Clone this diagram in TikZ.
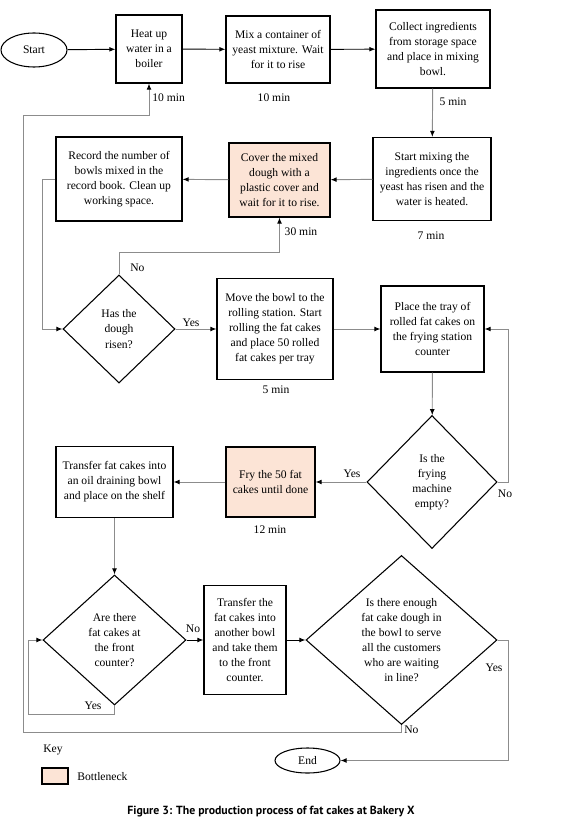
\documentclass[tikz,border=0pt]{standalone}
\usepackage{fontspec}
\setmainfont{Liberation Serif}
\newfontfamily\capfont{PT Sans}
\usetikzlibrary{shapes.geometric,arrows.meta,calc}
\definecolor{bottleneck}{HTML}{FCE4D6}
\definecolor{linegray}{HTML}{8C8C8C}
\begin{document}
\begin{tikzpicture}[x=0.75pt,y=-0.75pt,
        font=\rmfamily\fontsize{8.7}{11.3}\selectfont,
        procbox/.style={draw,line width=0.9pt,align=center,inner sep=1pt},
        decision/.style={draw,diamond,aspect=1,line width=0.8pt,align=center,inner sep=1pt},
        terminal/.style={draw,ellipse,line width=0.8pt,inner sep=0pt},
        flow/.style={draw=linegray,line width=0.7pt,-{Latex[length=4.5pt,width=3.6pt,color=black]}},
        mainflow/.style={flow,draw=black},
        note/.style={inner sep=0pt}]
        \useasboundingbox (0,0) rectangle (580,823);
        % top row
        \node[terminal,minimum width=49.5pt,minimum height=25.5pt] (start) at (34,50) {Start};
        \node[procbox,minimum width=49.5pt,minimum height=51pt] (heat) at (149,49) {Heat up\\water in a\\boiler};
        \node[procbox,minimum width=78pt,minimum height=50.25pt] (mix) at (278,49.5) {Mix a container of\\yeast mixture. Wait\\for it to rise};
        \node[procbox,minimum width=85.5pt,minimum height=58.5pt] (collect) at (433,49) {Collect ingredients\\from storage space\\and place in mixing\\bowl.};
        % second row
        \node[procbox,minimum width=88.5pt,minimum height=62.25pt] (startmix) at (432,179) {Start mixing the\\ingredients once the\\yeast has risen and the\\water is heated.};
        \node[procbox,fill=bottleneck,minimum width=75.75pt,minimum height=55.5pt] (cover) at (279.5,180) {Cover the mixed\\dough with a\\plastic cover and\\wait for it to rise.};
        \node[procbox,minimum width=94.5pt,minimum height=63pt] (record) at (119,179) {Record the number of\\bowls mixed in the\\record book. Clean up\\working space.};
        % third row
        \node[decision,minimum width=84pt,minimum height=81pt] (risen) at (119,329) {Has the\\dough\\risen?};
        \node[procbox,minimum width=87pt,minimum height=75.75pt] (move) at (275,329) {Move the bowl to the\\rolling station. Start\\rolling the fat cakes\\and place 50 rolled\\fat cakes per tray};
        \node[procbox,minimum width=77.25pt,minimum height=64.5pt] (tray) at (432.5,329) {Place the tray of\\rolled fat cakes on\\the frying station\\counter};
        % fourth row
        \node[decision,minimum width=97.5pt,minimum height=99.75pt] (empty) at (432,482) {Is the\\frying\\machine\\empty?};
        \node[procbox,fill=bottleneck,minimum width=66.75pt,minimum height=52.5pt] (fry) at (270.5,482) {Fry the 50 fat\\cakes until done};
        \node[procbox,minimum width=87.75pt,minimum height=53.25pt] (transfer) at (114.5,482) {Transfer fat cakes into\\an oil draining bowl\\and place on the shelf};
        % fifth row
        \node[decision,minimum width=107.25pt,minimum height=97.5pt] (counter) at (114.5,640) {Are there\\fat cakes at\\the front\\counter?};
        \node[procbox,minimum width=61.5pt,minimum height=81.75pt] (carry) at (245,640) {Transfer the\\fat cakes into\\another bowl\\and take them\\to the front\\counter.};
        \node[decision,minimum width=143.25pt,minimum height=123.75pt] (enough) at (401.5,640) {Is there enough\\fat cake dough in\\the bowl to serve\\all the customers\\who are waiting\\in line?};
        \node[terminal,minimum width=48.75pt,minimum height=18.75pt] (end) at (307.5,760.5) {End};
        % times and answers
        \node[note,anchor=west] (theat) at (152,98) {10 min};
        \node[note] (tmix) at (274,98) {10 min};
        \node[note] (tcollect) at (453,102) {5 min};
        \node[note] (tcover) at (301,232) {30 min};
        \node[note] (tstartmix) at (431,236) {7 min};
        \node[note] (tmove) at (276,390) {5 min};
        \node[note] (tfry) at (270,530) {12 min};
        \node[note,anchor=west] (norisen) at (130,268) {No};
        \node[note] (yesrisen) at (191,323) {Yes};
        \node[note] (noempty) at (505,494) {No};
        \node[note] (yesempty) at (352,474) {Yes};
        \node[note] (nocounter) at (193,629) {No};
        \node[note] (yescounter) at (93,706) {Yes};
        \node[note] (yesenough) at (494,668) {Yes};
        \node[note,anchor=west] (noenough) at (404,730) {No};
        % connectors
        \draw[mainflow] (start) -- (heat);
        \draw[mainflow] (heat) -- (mix);
        \draw[mainflow] (mix) -- (collect);
        \draw[flow] (collect) -- (startmix);
        \draw[flow] (startmix) -- (cover);
        \draw[flow] (cover) -- (record);
        \draw[flow] (risen.north) -- ++(0,-22) -| (cover.south);
        \draw[flow] (record.west) -- ++(-13,0) |- (risen.west);
        \draw[flow] (risen) -- (move);
        \draw[flow] (move) -- (tray);
        \draw[flow] (tray) -- (empty);
        \draw[flow] (empty.east) -- ++(11,0) |- (tray.east);
        \draw[flow] (empty) -- (fry);
        \draw[flow] (fry) -- (transfer);
        \draw[flow] (transfer) -- (counter);
        \coordinate (yesloop) at (28,714);
        \draw[flow] (counter.south) |- (yesloop) |- (counter.west);
        \draw[mainflow] (counter) -- (carry);
        \draw[mainflow] (carry) -- (enough);
        \draw[flow] (enough.east) -- ++(11,0) |- (end.east);
        \coordinate (back) at (23,732);
        \draw[flow] (enough.south) |- (back) |- ($(heat.south)+(0,32)$) -- (heat.south);
        % key
        \node[note,anchor=west] (key) at (43,750) {Key};
        \node[draw,line width=1pt,fill=bottleneck,minimum width=19.5pt,minimum height=12pt,inner sep=0pt] (keybox) at (55,776) {};
        \node[note,anchor=west] (keytext) at (77,777) {Bottleneck};
        \node[note,font=\capfont\bfseries\fontsize{8.85}{10}\selectfont] (caption) at (271,812) {Figure 3: The production process of fat cakes at Bakery X};
    \end{tikzpicture}
\end{document}
